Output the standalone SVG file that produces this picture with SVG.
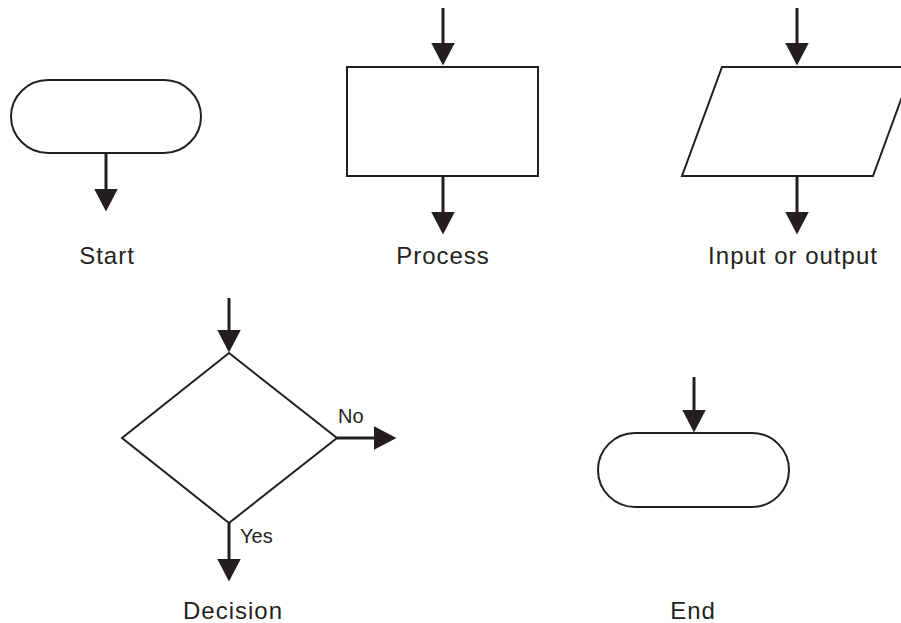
<svg xmlns="http://www.w3.org/2000/svg" width="901" height="623" viewBox="0 0 901 623">
  <defs>
    <marker id="ah" markerUnits="userSpaceOnUse" markerWidth="24" markerHeight="24" refX="0.5" refY="12" orient="auto" viewBox="0 0 24 24">
      <path d="M0,0 L23,12 L0,24 z" fill="#231f20"/>
    </marker>
    <style>
      .shape { fill: #ffffff; stroke: #231f20; stroke-width: 2; }
      .conn { stroke: #231f20; stroke-width: 3; fill: none; marker-end: url(#ah); }
      .lbl { font-family: "Liberation Sans", Arial, sans-serif; font-size: 24px; fill: #231f20; text-anchor: middle; letter-spacing: 1px; }
      .small { font-family: "Liberation Sans", Arial, sans-serif; font-size: 20px; fill: #231f20; }
    </style>
  </defs>
  <rect width="901" height="623" fill="#ffffff"/>

  <g id="start">
    <rect class="shape" x="11" y="80" width="190" height="73" rx="37" ry="36.5"/>
    <text class="lbl" x="107" y="264">Start</text>
  </g>

  <g id="process">
    <rect class="shape" x="347" y="67" width="191" height="109"/>
    <text class="lbl" x="443" y="264">Process</text>
  </g>

  <g id="io">
    <polygon class="shape" points="722,67 913,67 873,176 682,176"/>
    <text class="lbl" x="793" y="264">Input or output</text>
  </g>

  <g id="decision">
    <polygon class="shape" points="229,353 337,438 229,523 122,438"/>
    <text class="lbl" x="233" y="619">Decision</text>
    <text class="small" x="338" y="423">No</text>
    <text class="small" x="240" y="543">Yes</text>
  </g>

  <g id="end">
    <rect class="shape" x="598" y="433" width="191" height="74" rx="37" ry="37"/>
    <text class="lbl" x="693" y="619">End</text>
  </g>

  <g id="connectors">
    <line class="conn" x1="106" y1="153" x2="106" y2="189"/>
    <line class="conn" x1="443" y1="8" x2="443" y2="43"/>
    <line class="conn" x1="443" y1="176" x2="443" y2="212"/>
    <line class="conn" x1="797" y1="8" x2="797" y2="43"/>
    <line class="conn" x1="797" y1="176" x2="797" y2="212"/>
    <line class="conn" x1="229" y1="298" x2="229" y2="330"/>
    <line class="conn" x1="229" y1="523" x2="229" y2="559"/>
    <line class="conn" x1="337" y1="438" x2="374" y2="438"/>
    <line class="conn" x1="694" y1="377" x2="694" y2="410"/>
  </g>
</svg>
